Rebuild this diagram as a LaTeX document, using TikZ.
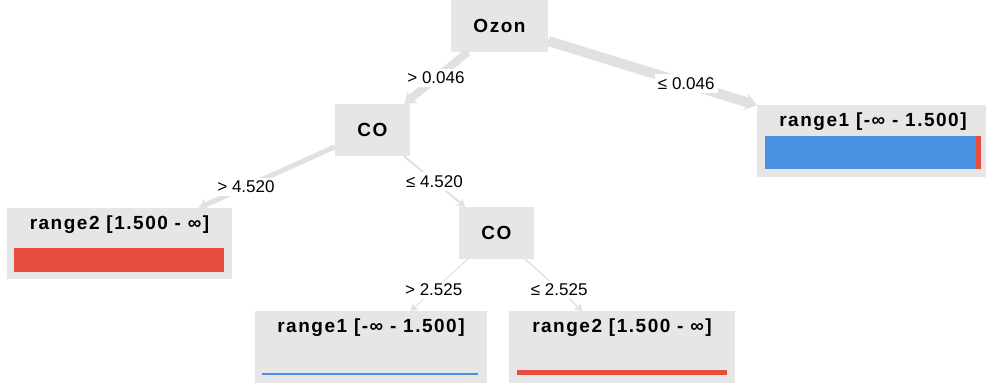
\documentclass[tikz,border=0pt]{standalone}
\usepackage{fontspec}
\setmainfont{Liberation Sans}
\newfontfamily\headfont[LetterSpace=8]{Liberation Sans}
\usetikzlibrary{positioning,arrows.meta}

\definecolor{boxgray}{HTML}{E6E6E6}
\definecolor{edgegray}{HTML}{E1E1E1}
\definecolor{barblue}{HTML}{4A90E2}
\definecolor{barred}{HTML}{E74C3C}

\begin{document}
\begin{tikzpicture}[x=1pt,y=-1pt,
    split/.style={fill=boxgray, minimum width=75pt, minimum height=52pt,
        inner sep=0pt, outer sep=0pt, font=\headfont\bfseries\fontsize{19}{22}\selectfont},
    leaf/.style={fill=boxgray, minimum width=232pt, minimum height=72pt,
        inner sep=0pt, outer sep=0pt},
    title/.style={label={[anchor=north, inner sep=0pt, yshift=-8pt,
        font=\headfont\bfseries\fontsize{19}{22}\selectfont]north:{#1}}},
    branch/.style={draw=edgegray, line width=#1,
        -{Stealth[length=7pt 0.5, width=8pt 0.9]}},
    cut/.style={midway, fill=white, inner sep=3pt, font=\fontsize{17}{20}\selectfont}]
    \useasboundingbox (0,0) rectangle (986,387);

    \node[split, minimum width=97pt] (ozon) at (499.5,26) {Ozon};
    \node[split, below left=52pt and 41pt of ozon] (coA) {CO};
    \node[leaf, title={range1 [-∞ - 1.500]}, below right=53pt and 209pt of ozon] (leafA) {};
    \node[split, below right=51pt and 49pt of coA] (coB) {CO};
    \node[leaf, minimum width=225pt, minimum height=71pt, title={range2 [1.500 - ∞]},
        below left=52pt and 103pt of coA] (leafB) {};
    \node[leaf, title={range1 [-∞ - 1.500]}, below=52pt of coB, xshift=-125.5pt] (leafC) {};
    \node[leaf, minimum width=226pt, title={range2 [1.500 - ∞]},
        below=52pt of coB, xshift=125.5pt] (leafD) {};

    % class bars
    \fill[barblue] ([xshift=8pt,yshift=8pt]leafA.south west) rectangle ([xshift=-13pt,yshift=41pt]leafA.south east);
    \fill[barred] ([xshift=-13pt,yshift=8pt]leafA.south east) rectangle ([xshift=-8pt,yshift=41pt]leafA.south east);
    \fill[barred] ([xshift=7pt,yshift=7pt]leafB.south west) rectangle ([xshift=-8pt,yshift=31pt]leafB.south east);
    \fill[barblue] ([xshift=7pt,yshift=8pt]leafC.south west) rectangle ([xshift=-9pt,yshift=10pt]leafC.south east);
    \fill[barred] ([xshift=8pt,yshift=8pt]leafD.south west) rectangle ([xshift=-8pt,yshift=13pt]leafD.south east);

    % branches, thickness by share of samples
    \draw[branch=8pt] (ozon) -- (coA);
    \draw[branch=10pt] (ozon) -- (leafA);
    \draw[branch=5pt] (coA) -- (leafB);
    \draw[branch=2pt] (coA) -- (coB);
    \draw[branch=1pt] (coB) -- (leafC);
    \draw[branch=1.5pt] (coB) -- (leafD);

    % split conditions, halfway between node centres
    \path (ozon.center) -- node[cut] {> 0.046} (coA.center);
    \path (ozon.center) -- node[cut] {≤ 0.046} (leafA.center);
    \path (coA.center) -- node[cut] {> 4.520} (leafB.center);
    \path (coA.center) -- node[cut] {≤ 4.520} (coB.center);
    \path (coB.center) -- node[cut] {> 2.525} (leafC.center);
    \path (coB.center) -- node[cut] {≤ 2.525} (leafD.center);
\end{tikzpicture}
\end{document}
